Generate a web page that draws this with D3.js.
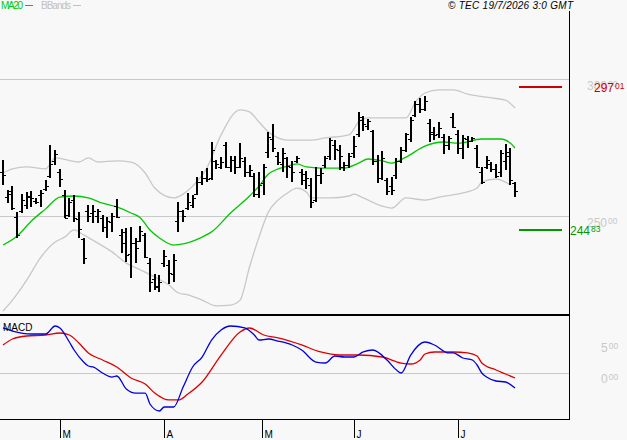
<!DOCTYPE html>
<html lang="en">
<head>
    <meta charset="UTF-8">
    <title>MA20 / BBands / MACD</title>
    <script src="https://cdnjs.cloudflare.com/ajax/libs/d3/7.8.5/d3.min.js"></script>
    <style>
        body { margin: 0; background: #f8f8f8; }
        svg { display: block; font-family: "Liberation Sans", Arial, sans-serif; }
    </style>
</head>
<body>
    <div id="wrapper"></div>
    <script>
        // OHLC, one entry per trading day (index 0 = mid Feb, 108 = 17 Jul)
        const highs = [270.4, 259.5, 260.9, 251.5, 258.0, 258.8, 259.1, 256.6, 259.5, 263.1,
            275.9, 274.1, 267.2, 259.5, 256.6, 257.7, 251.5, 242.0, 254.0, 254.0,
            252.6, 250.4, 249.6, 251.1, 256.2, 245.3, 245.6, 246.0, 242.0, 246.4,
            243.8, 234.7, 228.8, 228.5, 237.6, 233.9, 236.1, 255.1, 252.2, 258.4,
            257.7, 264.2, 266.4, 267.5, 277.0, 270.4, 271.5, 277.0, 271.9, 271.9,
            276.6, 271.5, 268.6, 265.7, 266.1, 269.0, 280.7, 283.6, 273.4, 274.8,
            271.5, 270.1, 271.9, 267.2, 266.4, 263.9, 267.9, 267.5, 271.9, 278.5,
            277.7, 275.9, 269.7, 273.0, 279.2, 288.0, 286.5, 285.4, 281.4, 272.3,
            273.7, 263.9, 264.2, 271.2, 275.2, 280.3, 286.1, 292.0, 293.1, 293.8,
            285.4, 282.5, 284.3, 279.9, 279.2, 287.6, 281.4, 279.6, 279.2, 278.8,
            275.9, 267.9, 271.9, 269.7, 269.0, 274.1, 276.3, 274.8, 262.4]
        const lows = [261.3, 254.7, 252.2, 242.0, 251.1, 252.6, 253.3, 254.4, 253.3, 259.1,
            263.9, 268.6, 260.6, 249.3, 249.6, 247.8, 242.0, 232.5, 247.8, 247.4,
            247.4, 244.2, 242.0, 244.2, 249.3, 236.5, 233.2, 227.4, 232.8, 240.5,
            234.7, 222.3, 223.0, 222.3, 231.4, 225.2, 225.9, 244.2, 247.8, 252.2,
            252.9, 257.7, 261.3, 262.4, 263.1, 267.2, 267.2, 267.5, 266.1, 265.3,
            267.5, 264.2, 264.2, 256.9, 256.6, 257.7, 271.2, 273.4, 268.6, 266.1,
            263.9, 262.4, 269.3, 261.3, 259.9, 252.9, 255.1, 261.7, 267.5, 270.4,
            270.4, 266.8, 266.4, 267.5, 271.2, 278.8, 281.0, 281.4, 268.6, 262.0,
            263.1, 257.7, 257.7, 263.5, 269.3, 273.4, 277.0, 286.1, 287.6, 288.3,
            277.0, 277.7, 278.5, 272.6, 274.1, 282.1, 272.6, 270.8, 274.8, 277.0,
            267.5, 261.7, 267.2, 266.1, 263.9, 264.2, 266.8, 261.3, 256.9]
        const opens = [266, 257, 259, 249.7, 251.8, 254, 257, 255.5, 257.7, 260,
            264.7, 270, 266, 257.7, 250.4, 256, 249, 241.6, 251.8, 251,
            250, 249.2, 246, 247.9, 253.8, 243.1, 244, 236, 240, 241,
            243, 233, 227, 224, 233, 232, 229, 248.2, 251.8, 253,
            254, 258, 262.5, 264, 264, 270, 268, 276, 268, 270.4,
            268, 270, 266, 264.7, 258, 262, 273.5, 278, 272, 269,
            271, 268, 270, 266, 263, 261.3, 255.8, 265, 268.6, 272,
            276, 274, 268, 268.6, 273, 280, 285, 283, 281, 270,
            264, 263, 261, 265, 270, 274, 278, 286.9, 291, 289,
            284, 280, 280, 279, 276, 286, 280, 275, 278, 277.5,
            275, 266, 268, 269, 267, 266, 270, 272, 262]
        const closes = [265, 258, 253, 243.1, 256, 257.3, 256.7, 255.2, 258.5, 261,
            268.9, 272.5, 263.4, 249.4, 255, 249.4, 245.3, 234.6, 250, 252,
            251.8, 246, 248.2, 250, 249.7, 240, 235.8, 240, 238.4, 244.5,
            235, 226, 224.5, 225.8, 235.5, 229.1, 234, 252, 250, 255,
            256.5, 262.5, 263.8, 263.4, 274, 268.9, 269.6, 268, 270.4, 268,
            271.1, 266, 266.8, 258, 261.3, 268, 278.9, 275, 269.6, 272.9,
            268.4, 265.9, 271.3, 265.2, 264, 255, 265, 265.6, 271, 277.7,
            274.5, 272, 268.6, 272, 275.7, 286, 283.5, 284.5, 270, 264,
            271, 259, 259.5, 270, 274, 280, 285, 290.8, 289, 292,
            280.8, 279.6, 282, 276, 278.4, 282.5, 275, 278.4, 277.4, 278.4,
            268, 262.5, 270.4, 267, 264.7, 272.9, 273.5, 263, 259]

        // indicators: [bar index, value]
        const ma20 = [[0, 239.4], [3, 242.7], [6, 248.2], [9, 252.6], [12, 256.9], [15, 257.3], [18, 256.6],
            [21, 254.7], [24, 253.3], [27, 251.1], [29, 249.3], [31, 244.9], [33, 242.0], [36, 239.4],
            [38, 239.8], [42, 242.3], [44, 244.2], [48, 251.1], [52, 257.3], [54, 260.9], [56, 265.3],
            [60, 268.2], [62, 269.0], [64, 267.9], [67, 267.5], [70, 267.5], [72, 267.5], [75, 269.3],
            [77, 270.8], [80, 270.1], [82, 269.3], [85, 271.5], [89, 275.5], [93, 277.0], [96, 276.6],
            [101, 278.1], [105, 278.1], [107, 276.6], [108, 274.8]]
        const bbUpper = [[0, 265.7], [2, 267.2], [5, 267.9], [9, 267.2], [11, 271.2], [16, 269.7], [18, 271.2],
            [20, 269.7], [24, 270.1], [27, 269.7], [30, 265.7], [32, 260.2], [36, 256.6], [38, 258.0],
            [40, 260.9], [43, 267.5], [46, 279.6], [50, 288.7], [52, 288.0], [54, 284.3], [56, 280.7],
            [58, 278.5], [60, 277.7], [65, 277.7], [68, 278.5], [73, 279.6], [75, 284.3], [77, 285.8],
            [80, 285.8], [85, 285.8], [87, 291.6], [89, 294.9], [92, 296.0], [95, 296.0], [98, 294.5],
            [103, 293.1], [106, 292.3], [108, 289.4]]
        const bbLower = [[0, 215.3], [2, 219.3], [5, 226.6], [8, 235.0], [11, 240.5], [13, 242.3], [15, 244.9],
            [17, 243.1], [20, 240.1], [23, 236.9], [26, 232.8], [29, 230.3], [32, 227.7], [35, 224.8],
            [37, 221.9], [39, 221.2], [42, 219.3], [45, 217.2], [48, 217.5], [50, 219.3], [52, 231.4],
            [54, 242.3], [56, 251.5], [58, 255.8], [60, 258.4], [62, 260.2], [64, 258.8], [65, 256.6],
            [69, 256.6], [73, 257.3], [74, 258.0], [76, 256.6], [80, 253.6], [82, 252.9], [85, 256.6],
            [89, 255.8], [92, 256.9], [97, 258.4], [100, 260.2], [101, 262.4], [104, 263.5], [107, 261.3]]
        const macdLine = [[0, 7.26], [2, 6.77], [6, 6.29], [9, 6.29], [11, 7.58], [12, 7.26], [14, 5.0],
            [15, 3.71], [17, 1.77], [18, 1.13], [19, 0.97], [21, 0], [23, -0.65], [24, -0.48], [26, -2.58],
            [28, -3.23], [30, -3.23], [31, -5.0], [33, -6.13], [34, -5.48], [36, -5.48], [38, -2.26],
            [40, 0.97], [42, 2.58], [44, 5.32], [46, 6.94], [48, 7.58], [51, 7.26], [53, 6.13], [54, 5.32],
            [56, 5.48], [58, 5.16], [61, 4.52], [63, 3.71], [66, 1.77], [68, 1.61], [70, 2.74], [72, 2.58],
            [74, 2.58], [76, 3.39], [78, 3.71], [81, 2.10], [83, 0.48], [84, 0.0], [86, 2.90], [89, 5.0],
            [91, 4.52], [94, 3.23], [95, 3.23], [97, 2.42], [99, 2.10], [100, 1.29], [101, 0], [102, -0.65],
            [104, -1.29], [106, -1.45], [108, -2.42]]
        const macdSignal = [[0, 4.52], [2, 5.48], [5, 5.97], [9, 6.13], [12, 6.45], [14, 6.13], [16, 4.84],
            [18, 3.23], [21, 2.10], [24, 0.97], [27, -0.81], [30, -1.77], [32, -3.23], [35, -4.35],
            [37, -4.35], [39, -3.39], [42, -1.45], [46, 2.9], [50, 6.6], [52, 7.26], [55, 6.13], [58, 5.65],
            [63, 4.52], [67, 3.39], [71, 2.9], [75, 2.9], [80, 2.58], [84, 1.61], [86, 1.45], [88, 2.10],
            [89, 3.06], [91, 3.39], [95, 3.39], [98, 3.23], [100, 2.74], [101, 1.61], [104, 0.48],
            [106, -0.16], [108, -0.81]]

        const priceTicks = [250, 300]
        const macdTicks = [0, 5]
        const resistance = 297.01
        const support = 244.83
        const monthLabels = ['M', 'A', 'M', 'J', 'J']
        const monthStarts = [12, 34, 54.6, 74, 96]

        const dimensions = { width: 627, height: 440, plotRight: 569, top: 11, split: 315, bottom: 419 }

        const svg = d3.select('#wrapper').append('svg')
            .attr('width', dimensions.width)
            .attr('height', dimensions.height)
        svg.append('rect').attr('width', dimensions.width).attr('height', dimensions.height).attr('fill', '#f8f8f8')

        const xScale = d3.scaleLinear().domain([0, 108]).range([3, 515])
        const yScale = d3.scaleLinear().domain([250, 300]).range([216, 79])
        const mScale = d3.scaleLinear().domain([0, 5]).range([373, 342])

        const defs = svg.append('defs')
        defs.append('clipPath').attr('id', 'clipMain').append('rect')
            .attr('x', 0).attr('y', dimensions.top).attr('width', dimensions.plotRight).attr('height', dimensions.split - dimensions.top - 1)
        defs.append('clipPath').attr('id', 'clipMacd').append('rect')
            .attr('x', 0).attr('y', dimensions.split + 1).attr('width', dimensions.plotRight).attr('height', dimensions.bottom - dimensions.split - 1)

        // grid lines
        svg.append('g').selectAll('line').data(priceTicks).join('line')
            .attr('x1', 0).attr('x2', dimensions.plotRight)
            .attr('y1', d => Math.round(yScale(d)) + 0.5).attr('y2', d => Math.round(yScale(d)) + 0.5)
            .attr('stroke', '#c8c8c8')
        svg.append('line')
            .attr('x1', 0).attr('x2', dimensions.plotRight)
            .attr('y1', Math.round(mScale(0)) + 0.5).attr('y2', Math.round(mScale(0)) + 0.5)
            .attr('stroke', '#c8c8c8')

        // price axis labels (decimals shown small, raised)
        const labelWithDecimals = (g, value, x, y, color) => {
            const [whole, dec] = value.toFixed(2).split('.')
            const t = g.append('text').attr('x', x).attr('y', y).attr('fill', color).style('font-size', '12px')
            t.append('tspan').text(whole)
            t.append('tspan').attr('dx', 1).attr('dy', -3).style('font-size', '8.5px').text(dec)
        }
        const axisG = svg.append('g')
        priceTicks.forEach(v => labelWithDecimals(axisG, v, 587, yScale(v) + 11, '#c8c8c8'))
        macdTicks.forEach(v => labelWithDecimals(axisG, v, 601, mScale(v) + 10, '#c8c8c8'))

        // main panel
        const main = svg.append('g').attr('clip-path', 'url(#clipMain)')
        const line = d3.line().x(d => xScale(d[0])).y(d => yScale(d[1])).curve(d3.curveMonotoneX)

        main.append('path').attr('d', line(bbUpper)).attr('fill', 'none').attr('stroke', '#c8c8c8').attr('stroke-width', 1.3)
        main.append('path').attr('d', line(bbLower)).attr('fill', 'none').attr('stroke', '#c8c8c8').attr('stroke-width', 1.3)
        main.append('path').attr('d', line(ma20)).attr('fill', 'none').attr('stroke', '#00c800').attr('stroke-width', 1.3)

        const bars = main.append('g').selectAll('g').data(d3.range(highs.length)).join('g')
        bars.append('line')
            .attr('x1', i => Math.round(xScale(i))).attr('x2', i => Math.round(xScale(i)))
            .attr('y1', i => Math.round(yScale(highs[i]))).attr('y2', i => Math.round(yScale(lows[i])))
            .attr('stroke', '#000').attr('stroke-width', 2)
        bars.append('line')
            .attr('x1', i => Math.round(xScale(i)) - 3).attr('x2', i => Math.round(xScale(i)))
            .attr('y1', i => Math.round(yScale(opens[i])) + 0.5).attr('y2', i => Math.round(yScale(opens[i])) + 0.5)
            .attr('stroke', '#000').attr('stroke-width', 1)
        bars.append('line')
            .attr('x1', i => Math.round(xScale(i))).attr('x2', i => Math.round(xScale(i)) + 3)
            .attr('y1', i => Math.round(yScale(closes[i])) + 0.5).attr('y2', i => Math.round(yScale(closes[i])) + 0.5)
            .attr('stroke', '#000').attr('stroke-width', 1)

        // support / resistance
        const levels = [{ v: resistance, c: '#cc0000', lx: 594 }, { v: support, c: '#009900', lx: 570 }]
        levels.forEach(l => {
            const y = Math.round(yScale(l.v))
            svg.append('line').attr('x1', 519).attr('x2', 562).attr('y1', y).attr('y2', y)
                .attr('stroke', l.c).attr('stroke-width', 2)
            labelWithDecimals(svg, l.v, l.lx, y + 5, l.c)
        })

        // MACD panel
        const macdG = svg.append('g').attr('clip-path', 'url(#clipMacd)')
        const mLine = d3.line().x(d => xScale(d[0])).y(d => mScale(d[1])).curve(d3.curveMonotoneX)
        macdG.append('path').attr('d', mLine(macdSignal)).attr('fill', 'none').attr('stroke', '#dd0000').attr('stroke-width', 1.3)
        macdG.append('path').attr('d', mLine(macdLine)).attr('fill', 'none').attr('stroke', '#0000dd').attr('stroke-width', 1.3)
        svg.append('text').attr('x', 3).attr('y', 331).style('font-size', '10px').attr('fill', '#000').text('MACD')

        // frame
        svg.append('line').attr('x1', 0).attr('x2', dimensions.plotRight + 1).attr('y1', dimensions.split).attr('y2', dimensions.split)
            .attr('stroke', '#000').attr('stroke-width', 2)
        svg.append('line').attr('x1', 0).attr('x2', dimensions.plotRight + 1).attr('y1', dimensions.bottom + 0.5).attr('y2', dimensions.bottom + 0.5)
            .attr('stroke', '#000').attr('stroke-width', 1)
        svg.append('line').attr('x1', dimensions.plotRight + 0.5).attr('x2', dimensions.plotRight + 0.5)
            .attr('y1', dimensions.top).attr('y2', dimensions.bottom + 1)
            .attr('stroke', '#000').attr('stroke-width', 1)

        // month ticks
        const months = svg.append('g').selectAll('g').data(monthStarts).join('g')
            .attr('transform', d => `translate(${Math.round(xScale(d)) + 0.5},0)`)
        months.append('line').attr('y1', dimensions.bottom).attr('y2', 438).attr('stroke', '#000')
        months.append('text').attr('x', 2).attr('y', 438).style('font-size', '10px').text((d, i) => monthLabels[i])

        // legend and copyright
        const legend = svg.append('g').style('font-size', '10px')
        legend.append('text').attr('x', 1).attr('y', 9).attr('fill', '#00c800').attr('textLength', 22).text('MA20')
        legend.append('line').attr('x1', 25).attr('x2', 33).attr('y1', 5.5).attr('y2', 5.5).attr('stroke', '#00c800')
        legend.append('text').attr('x', 41).attr('y', 9).attr('fill', '#c0c0c0').attr('textLength', 30).text('BBands')
        legend.append('line').attr('x1', 73).attr('x2', 81).attr('y1', 5.5).attr('y2', 5.5).attr('stroke', '#c0c0c0')
        svg.append('text').attr('x', 448).attr('y', 9).style('font-size', '10px').style('font-style', 'italic')
            .attr('textLength', 125).text('© TEC 19/7/2026 3:0 GMT')
    </script>
</body>
</html>
